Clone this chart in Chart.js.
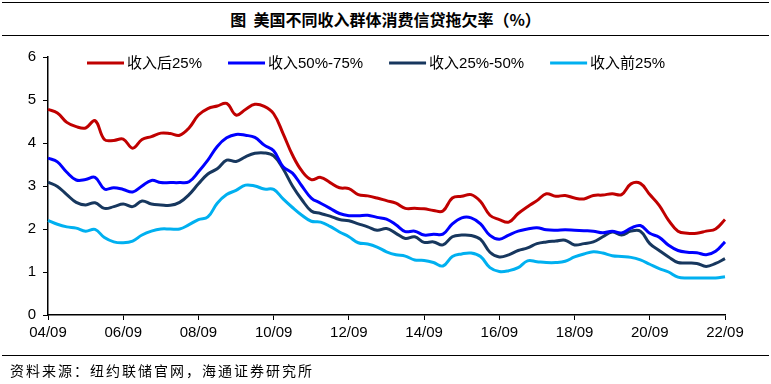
<!DOCTYPE html>
<html>
<head>
<meta charset="utf-8">
<script src="https://cdn.jsdelivr.net/npm/chart.js@4.4.1/dist/chart.umd.min.js"></script>
<style>
  html, body { margin: 0; padding: 0; background: #fff; }
  body { width: 771px; height: 384px; position: relative; overflow: hidden; font-family: "Liberation Sans", "Noto Sans CJK SC", sans-serif; }
  #c { position: absolute; left: 0; top: 0; }
  .hl { position: absolute; left: 2px; width: 767px; height: 0; border-top: 1.5px solid #000; }
  #title { position: absolute; left: 0; width: 771px; top: 6px; text-align: center; font-family: "Noto Sans CJK SC", sans-serif; font-weight: 700; font-size: 16px; line-height: 26px; color: #000; }
  #src { position: absolute; left: 10px; top: 361px; font-family: "Noto Sans CJK SC", sans-serif; font-size: 14px; line-height: 18px; letter-spacing: 2px; color: #000; }
</style>
</head>
<body>
<div class="hl" style="top:2px"></div>
<div id="title">图&nbsp;&nbsp;美国不同收入群体消费信贷拖欠率（%）</div>
<div class="hl" style="top:35px"></div>
<canvas id="c" width="771" height="384"></canvas>
<div class="hl" style="top:355px"></div>
<div id="src">资料来源：纽约联储官网，海通证券研究所</div>
<script>
const quarters = [
  "04/09","04/12","05/03","05/06","05/09","05/12","06/03","06/06","06/09","06/12",
  "07/03","07/06","07/09","07/12","08/03","08/06","08/09","08/12","09/03","09/06",
  "09/09","09/12","10/03","10/06","10/09","10/12","11/03","11/06","11/09","11/12",
  "12/03","12/06","12/09","12/12","13/03","13/06","13/09","13/12","14/03","14/06",
  "14/09","14/12","15/03","15/06","15/09","15/12","16/03","16/06","16/09","16/12",
  "17/03","17/06","17/09","17/12","18/03","18/06","18/09","18/12","19/03","19/06",
  "19/09","19/12","20/03","20/06","20/09","20/12","21/03","21/06","21/09","21/12",
  "22/03","22/06","22/09"
];
const seriesNames = ["收入后25%", "收入50%-75%", "收入25%-50%", "收入前25%"];
const bottom25 = [
  4.78,4.70,4.48,4.38,4.35,4.52,4.08,4.06,4.09,3.88,
  4.08,4.15,4.23,4.22,4.18,4.35,4.65,4.80,4.86,4.92,
  4.65,4.78,4.90,4.85,4.68,4.22,3.72,3.35,3.15,3.20,
  3.08,2.96,2.94,2.80,2.77,2.72,2.66,2.60,2.48,2.48,
  2.47,2.43,2.42,2.72,2.76,2.80,2.64,2.32,2.22,2.16,
  2.36,2.52,2.66,2.82,2.76,2.78,2.72,2.70,2.78,2.79,
  2.82,2.80,3.05,3.06,2.80,2.55,2.20,1.95,1.90,1.90,
  1.95,2.00,2.22
];
const mid50to75 = [
  3.65,3.56,3.32,3.14,3.15,3.20,2.93,2.96,2.92,2.86,
  3.00,3.13,3.08,3.08,3.08,3.10,3.33,3.60,3.92,4.12,
  4.20,4.18,4.13,3.95,3.82,3.45,3.30,3.00,2.72,2.60,
  2.48,2.36,2.31,2.31,2.32,2.27,2.23,2.10,1.94,1.95,
  1.86,1.88,1.88,2.12,2.26,2.26,2.12,1.85,1.76,1.86,
  1.95,2.00,2.03,1.98,1.97,1.98,1.97,1.96,1.95,1.91,
  1.95,1.91,2.02,2.08,1.90,1.81,1.62,1.50,1.46,1.45,
  1.40,1.48,1.70
];
const mid25to50 = [
  3.09,2.99,2.80,2.62,2.56,2.61,2.48,2.52,2.58,2.52,
  2.65,2.58,2.56,2.55,2.62,2.80,3.05,3.28,3.40,3.60,
  3.57,3.68,3.76,3.77,3.70,3.40,3.00,2.68,2.42,2.36,
  2.30,2.22,2.19,2.12,2.05,1.97,2.01,1.90,1.78,1.82,
  1.69,1.70,1.63,1.82,1.86,1.85,1.76,1.46,1.35,1.40,
  1.50,1.56,1.66,1.70,1.72,1.74,1.63,1.66,1.70,1.82,
  1.93,1.86,1.95,1.95,1.66,1.50,1.35,1.22,1.21,1.20,
  1.13,1.20,1.31
];
const top25 = [
  2.20,2.11,2.05,2.02,1.95,1.99,1.80,1.70,1.68,1.72,
  1.86,1.95,2.00,2.00,2.00,2.10,2.22,2.28,2.60,2.80,
  2.90,3.02,3.00,2.93,2.92,2.70,2.50,2.32,2.18,2.16,
  2.06,1.93,1.82,1.68,1.65,1.58,1.47,1.40,1.37,1.28,
  1.27,1.22,1.14,1.36,1.42,1.44,1.36,1.10,1.01,1.03,
  1.10,1.26,1.24,1.22,1.22,1.25,1.35,1.42,1.47,1.44,
  1.38,1.36,1.34,1.28,1.18,1.08,1.00,0.88,0.86,0.86,
  0.86,0.86,0.89
];
const yTicks = [0, 1, 2, 3, 4, 5, 6];
const colors = ["#C00000", "#0000FF", "#17375E", "#00B0F0"];

const FONT = "'Liberation Sans', Arial, sans-serif";

const customLegend = {
  id: 'customLegend',
  afterDraw(chart) {
    const ctx = chart.ctx;
    ctx.save();
    ctx.font = "15px 'Liberation Sans', 'Noto Sans CJK SC', sans-serif";
    ctx.textBaseline = 'middle';
    let x = 87;
    const y = 63;
    chart.data.datasets.forEach(ds => {
      ctx.strokeStyle = ds.borderColor;
      ctx.lineWidth = 3;
      ctx.beginPath();
      ctx.moveTo(x, y);
      ctx.lineTo(x + 37, y);
      ctx.stroke();
      ctx.fillStyle = '#000';
      ctx.fillText(ds.label, x + 40, y + 1);
      const w = ctx.measureText(ds.label).width;
      x += 40 + w + 26;
    });
    ctx.restore();
  }
};

const datasets = [bottom25, mid50to75, mid25to50, top25].map((d, k) => ({
  label: seriesNames[k],
  data: d,
  borderColor: colors[k],
  backgroundColor: colors[k],
  borderWidth: 3,
  pointRadius: 0,
  tension: 0.4,
  fill: false
}));

new Chart(document.getElementById('c'), {
  type: 'line',
  data: { labels: quarters, datasets },
  options: {
    responsive: false,
    devicePixelRatio: 1,
    animation: false,
    layout: { padding: { left: 0, right: 46, top: 57, bottom: 39 } },
    plugins: { legend: { display: false }, tooltip: { enabled: false }, title: { display: false } },
    scales: {
      x: {
        type: 'category',
        offset: false,
        afterFit(s) { s.height = 30; },
        border: { display: true, color: '#000', width: 1.5 },
        grid: {
          drawOnChartArea: false,
          drawTicks: true,
          tickLength: 5,
          color: c => (c.index % 8 === 0 ? '#000' : 'rgba(0,0,0,0)'),
          lineWidth: 1
        },
        ticks: {
          autoSkip: false,
          maxRotation: 0,
          minRotation: 0,
          padding: 4,
          color: '#000',
          font: { family: FONT, size: 15 },
          callback: (v, i) => (i % 8 === 0 ? quarters[i] : '')
        }
      },
      y: {
        min: yTicks[0],
        max: yTicks[yTicks.length - 1],
        afterFit(s) { s.width = 48; },
        afterBuildTicks(s) { s.ticks = yTicks.map(v => ({ value: v })); },
        border: { display: true, color: '#000', width: 1.5 },
        grid: { drawOnChartArea: false, drawTicks: true, tickLength: 5, color: '#000' },
        ticks: {
          padding: 7,
          color: '#000',
          font: { family: FONT, size: 15 }
        }
      }
    }
  },
  plugins: [customLegend]
});
</script>
</body>
</html>
